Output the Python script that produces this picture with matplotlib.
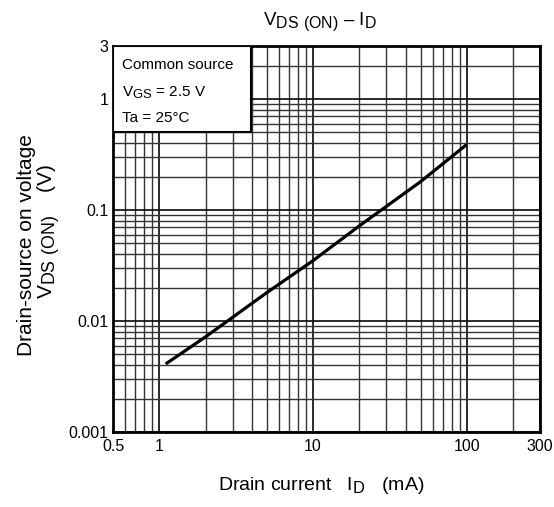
import matplotlib
matplotlib.use('Agg')
import matplotlib.pyplot as plt
import matplotlib._mathtext as mtext
from matplotlib.patches import Rectangle
from matplotlib.ticker import LogLocator, FixedLocator, NullFormatter

plt.rcParams['font.family'] = ['Liberation Sans', 'DejaVu Sans']
plt.rcParams['mathtext.fontset'] = 'custom'
plt.rcParams['mathtext.rm'] = 'Liberation Sans'
# subscripts in the datasheet are only a little smaller than the text
mtext.SHRINK_FACTOR = 0.85

# ── data ────────────────────────────────────────────────────
id_ma = [1.1, 2, 5, 10, 20, 50, 100]
vds_on = [0.0041, 0.0072, 0.018, 0.035, 0.072, 0.18, 0.39]

x_ticks = [0.5, 1, 10, 100, 300]
x_labels = ['0.5', '1', '10', '100', '300']
y_ticks = [0.001, 0.01, 0.1, 1, 3]
y_labels = ['0.001', '0.01', '0.1', '1', '3']

fig = plt.figure(figsize=(5.54, 5.07), dpi=100)
ax = fig.add_axes([0.204, 0.148, 0.771, 0.761])

ax.set_xscale('log')
ax.set_yscale('log')
ax.set_xlim(0.5, 300)
ax.set_ylim(0.001, 3)

ax.xaxis.set_major_locator(FixedLocator(x_ticks))
ax.set_xticklabels(x_labels)
ax.yaxis.set_major_locator(FixedLocator(y_ticks))
ax.set_yticklabels(y_labels)
ax.xaxis.set_minor_locator(LogLocator(base=10, subs=range(1, 10), numticks=20))
ax.yaxis.set_minor_locator(LogLocator(base=10, subs=range(1, 10), numticks=20))
ax.xaxis.set_minor_formatter(NullFormatter())
ax.yaxis.set_minor_formatter(NullFormatter())
ax.tick_params(which='both', length=0, labelsize=11.5)
ax.tick_params(axis='x', pad=5)
ax.tick_params(axis='y', pad=3.5)

ax.grid(which='minor', color='#333333', linewidth=1.0)
ax.grid(which='major', color='#111111', linewidth=1.25)
ax.set_axisbelow(True)
for s in ax.spines.values():
    s.set_linewidth(2)

ax.plot(id_ma, vds_on, color='black', linewidth=2.3, solid_capstyle='butt')

# condition box
ax.add_patch(Rectangle((0, 0.777), 0.323, 0.223, transform=ax.transAxes,
                       facecolor='white', edgecolor='black', linewidth=1.5,
                       zorder=3))
box_kw = dict(transform=ax.transAxes, fontsize=11, va='center', ha='left', zorder=4)
ax.text(0.021, 0.952, 'Common source', **box_kw)
ax.text(0.021, 0.880, r'V$_{\mathrm{GS}}$ = 2.5 V', **box_kw)
ax.text(0.021, 0.813, 'Ta = 25°C', **box_kw)

fig.text(0.578, 0.958, r'V$_{\mathrm{DS\ (ON)}}$ – I$_{\mathrm{D}}$',
         ha='center', va='center', fontsize=13.5)
fig.text(0.58, 0.042, r'Drain current   I$_{\mathrm{D}}$   (mA)',
         ha='center', va='center', fontsize=14)
fig.text(0.047, 0.517, 'Drain-source on voltage', rotation=90,
         ha='center', va='center', fontsize=15)
fig.text(0.089, 0.544, r'V$_{\mathrm{DS\ (ON)}}$    (V)', rotation=90,
         ha='center', va='center', fontsize=15)

plt.savefig('out.png', dpi=100)
